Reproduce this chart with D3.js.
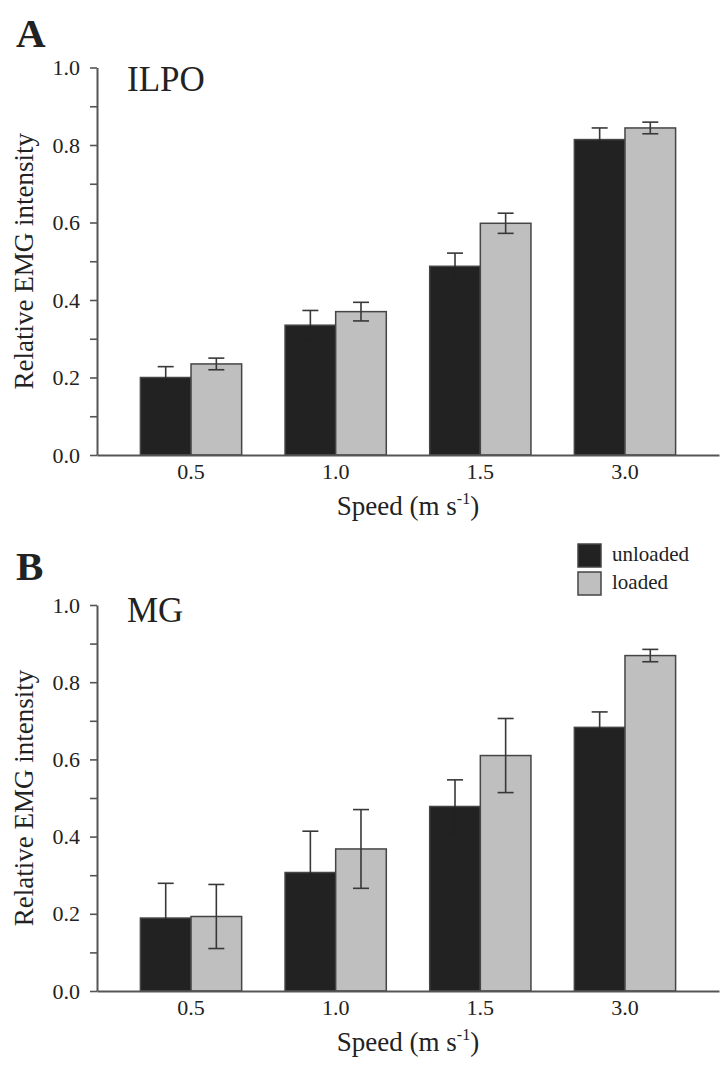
<!DOCTYPE html>
<html>
<head>
<meta charset="utf-8">
<script src="https://cdn.jsdelivr.net/npm/d3@7"></script>
<style>
  html, body { margin: 0; padding: 0; background: #fff; }
  svg { display: block; }
  text { font-family: "Liberation Serif", "Times New Roman", serif; fill: #222; }
</style>
</head>
<body>
<svg id="chart" width="726" height="1071"></svg>
<script>
const categories = ["0.5", "1.0", "1.5", "3.0"];
const seriesNames = ["unloaded", "loaded"];
const yTickValues = [0, 0.1, 0.2, 0.3, 0.4, 0.5, 0.6, 0.7, 0.8, 0.9, 1.0];

const ilpoUnloaded = [0.200, 0.335, 0.487, 0.814];
const ilpoUnloadedErr = [0.028, 0.038, 0.034, 0.030];
const ilpoLoaded = [0.235, 0.370, 0.598, 0.844];
const ilpoLoadedErr = [0.015, 0.024, 0.026, 0.015];

const mgUnloaded = [0.189, 0.307, 0.478, 0.683];
const mgUnloadedErr = [0.090, 0.107, 0.069, 0.040];
const mgLoaded = [0.193, 0.368, 0.610, 0.869];
const mgLoadedErr = [0.083, 0.102, 0.096, 0.016];

const colors = { unloaded: "#222222", loaded: "#bfbfbf" };

const svg = d3.select("#chart");

const panels = [
  { letter: "A", title: "ILPO", top: 67.5, bottom: 455,
    values: [ilpoUnloaded, ilpoLoaded], errs: [ilpoUnloadedErr, ilpoLoadedErr],
    letterY: 47, titleY: 91, legend: false },
  { letter: "B", title: "MG", top: 605, bottom: 991,
    values: [mgUnloaded, mgLoaded], errs: [mgUnloadedErr, mgLoadedErr],
    letterY: 580, titleY: 622, legend: true }
];

const left = 97, right = 719;
const serif = "'Liberation Serif', 'Times New Roman', serif";

panels.forEach(p => {
  const g = svg.append("g");
  const x0 = d3.scaleBand().domain(categories).range([left, right])
    .paddingInner(0.3).paddingOuter(0.3);
  const x1 = d3.scaleBand().domain(seriesNames).range([0, x0.bandwidth()]).padding(0);
  const y = d3.scaleLinear().domain([0, 1]).range([p.bottom, p.top]);

  const rows = categories.map((c, i) => ({
    cat: c,
    items: seriesNames.map((s, k) => ({ s, v: p.values[k][i], e: p.errs[k][i] }))
  }));

  const grp = g.selectAll("g.grp").data(rows).join("g")
    .attr("transform", d => `translate(${x0(d.cat)},0)`);

  grp.selectAll("rect").data(d => d.items).join("rect")
    .attr("x", d => x1(d.s))
    .attr("width", x1.bandwidth())
    .attr("y", d => y(d.v))
    .attr("height", d => y(0) - y(d.v))
    .attr("fill", d => colors[d.s])
    .attr("stroke", "#454545")
    .attr("stroke-width", 1.5);

  // error bars (lower half of the dark bars' whisker is hidden by the bar colour)
  const eb = grp.selectAll("g.err").data(d => d.items).join("g")
    .attr("stroke-width", 1.6);
  const cx = d => x1(d.s) + x1.bandwidth() / 2;
  const lowCol = d => d.s === "unloaded" ? colors.unloaded : "#383838";
  eb.append("line")
    .attr("stroke", "#383838")
    .attr("x1", cx).attr("x2", cx)
    .attr("y1", d => y(d.v + d.e)).attr("y2", d => y(d.v));
  eb.append("line")
    .attr("stroke", lowCol)
    .attr("x1", cx).attr("x2", cx)
    .attr("y1", d => y(d.v)).attr("y2", d => y(d.v - d.e));
  eb.append("line")
    .attr("stroke", "#383838")
    .attr("x1", d => cx(d) - 8).attr("x2", d => cx(d) + 8)
    .attr("y1", d => y(d.v + d.e)).attr("y2", d => y(d.v + d.e));
  eb.append("line")
    .attr("stroke", lowCol)
    .attr("x1", d => cx(d) - 8).attr("x2", d => cx(d) + 8)
    .attr("y1", d => y(d.v - d.e)).attr("y2", d => y(d.v - d.e));

  // y axis
  const yAxis = d3.axisLeft(y).tickValues(yTickValues)
    .tickSize(7).tickSizeOuter(0).tickPadding(10)
    .tickFormat((d, i) => i % 2 === 0 ? d3.format(".1f")(d) : "");
  const ya = g.append("g").attr("transform", `translate(${left},0)`).call(yAxis);
  ya.select(".domain").attr("stroke", "#555").attr("stroke-width", 2);
  ya.selectAll(".tick line").attr("stroke", "#555").attr("stroke-width", 1.6);
  ya.selectAll(".tick text").attr("font-size", 22)
    .style("font-family", serif).attr("fill", "#222");

  // x axis
  const xAxis = d3.axisBottom(x0).tickSize(0).tickSizeOuter(0).tickPadding(8);
  const xa = g.append("g").attr("transform", `translate(0,${p.bottom})`).call(xAxis);
  xa.select(".domain").attr("stroke", "#555").attr("stroke-width", 2);
  xa.selectAll(".tick text").attr("font-size", 22)
    .style("font-family", serif).attr("fill", "#222");

  // axis titles
  const xt = g.append("text")
    .attr("x", (left + right) / 2).attr("y", p.bottom + 60)
    .attr("text-anchor", "middle").attr("font-size", 27);
  xt.append("tspan").text("Speed (m s");
  xt.append("tspan").attr("font-size", 16).attr("dy", -11).text("-1");
  xt.append("tspan").attr("dy", 11).text(")");

  g.append("text")
    .attr("transform", `translate(33,${(p.top + p.bottom) / 2}) rotate(-90)`)
    .attr("text-anchor", "middle").attr("font-size", 27)
    .text("Relative EMG intensity");

  // panel letter and title
  g.append("text").attr("x", 16).attr("y", p.letterY)
    .attr("font-size", 41).attr("font-weight", "bold").attr("fill", "#111")
    .text(p.letter);
  g.append("text").attr("x", 127).attr("y", p.titleY)
    .attr("font-size", 35).text(p.title);

  if (p.legend) {
    const lg = g.append("g");
    const items = lg.selectAll("g").data(seriesNames).join("g")
      .attr("transform", (d, i) => `translate(578,${544 + i * 28})`);
    items.append("rect").attr("width", 23).attr("height", 23)
      .attr("fill", d => colors[d]).attr("stroke", "#454545").attr("stroke-width", 1.5);
    items.append("text").attr("x", 34).attr("y", 17)
      .attr("font-size", 21).text(d => d);
  }
});
</script>
</body>
</html>
